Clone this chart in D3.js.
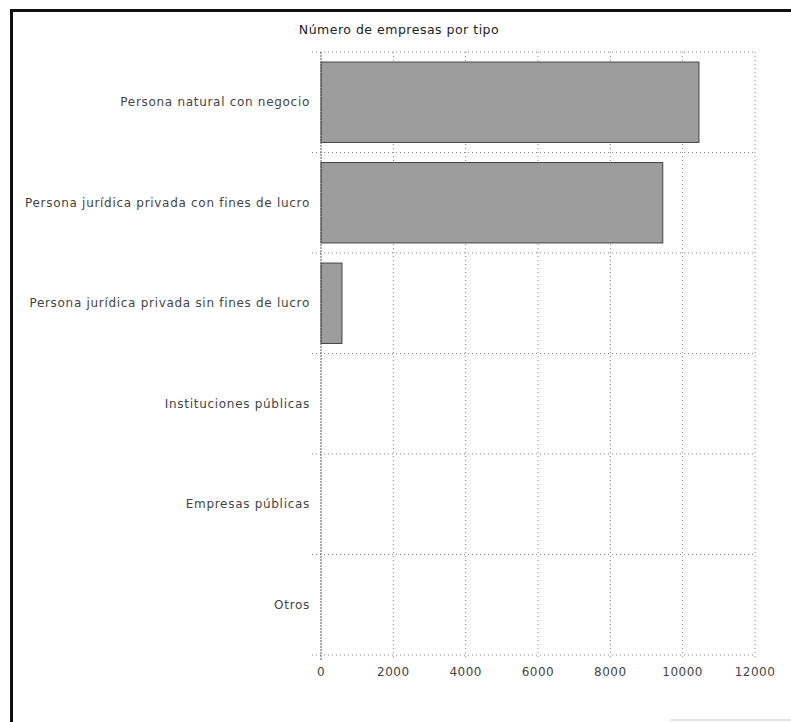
<!DOCTYPE html>
<html>
<head>
<meta charset="utf-8">
<script src="https://cdn.jsdelivr.net/npm/d3@7"></script>
<style>
  body { margin: 0; background: #fff; }
  svg { font-family: "DejaVu Sans", Verdana, sans-serif; }
</style>
</head>
<body>
<div id="vis1"></div>
<script>
// data
var tipos = [
  "Persona natural con negocio",
  "Persona jurídica privada con fines de lucro",
  "Persona jurídica privada sin fines de lucro",
  "Instituciones públicas",
  "Empresas públicas",
  "Otros"
];
var empresas = [10450, 9450, 580, 0, 0, 0];
var xTicks = [0, 2000, 4000, 6000, 8000, 10000, 12000];

var w = 791;
var h = 722;
var margin = {top: 52, right: 36, bottom: 67, left: 321};

var svg = d3.select("#vis1")
  .append("svg")
  .attr("width", w)
  .attr("height", h);

// scan frame (thick edge on the left and top)
svg.append("rect").attr("x", 10).attr("y", 9).attr("width", 3).attr("height", h - 9).attr("fill", "#111");
svg.append("rect").attr("x", 10).attr("y", 9).attr("width", w - 10).attr("height", 3).attr("fill", "#111");
svg.append("line").attr("x1", 670).attr("x2", w).attr("y1", 720).attr("y2", 720)
  .attr("stroke", "#ccc").attr("stroke-width", 1);

var x = d3.scaleLinear()
  .domain([0, 12000])
  .range([margin.left, w - margin.right]);

var y = d3.scaleBand()
  .domain(tipos)
  .range([margin.top, h - margin.bottom])
  .paddingInner(0.2)
  .paddingOuter(0.1);

var plotTop = margin.top, plotBottom = h - margin.bottom;

// title
svg.append("text")
  .attr("x", 399)
  .attr("y", 34)
  .attr("text-anchor", "middle")
  .attr("font-size", "12.5px")
  .attr("letter-spacing", "0.5px")
  .attr("fill", "#222")
  .text("Número de empresas por tipo");

// vertical gridlines
svg.append("g")
  .selectAll("line")
  .data(xTicks.slice(1))
  .enter().append("line")
  .attr("x1", function(d) { return x(d); })
  .attr("x2", function(d) { return x(d); })
  .attr("y1", plotTop)
  .attr("y2", plotBottom + 4)
  .attr("stroke", "#888")
  .attr("stroke-dasharray", "1,3");

// horizontal separators between categories
var seps = tipos.map(function(t) { return y(t) - y.step() * y.paddingInner() / 2; });
seps.push(plotBottom);
svg.append("g")
  .selectAll("line")
  .data(seps)
  .enter().append("line")
  .attr("x1", x(0) - 9)
  .attr("x2", x(12000))
  .attr("y1", function(d) { return d; })
  .attr("y2", function(d) { return d; })
  .attr("stroke", "#888")
  .attr("stroke-dasharray", "1,3");

// bars
svg.append("g")
  .selectAll("rect")
  .data(empresas)
  .enter().append("rect")
  .attr("x", x(0))
  .attr("y", function(d, i) { return y(tipos[i]); })
  .attr("width", function(d) { return x(d) - x(0); })
  .attr("height", y.bandwidth())
  .attr("fill", function(d) { return d > 0 ? "#9d9d9d" : "none"; })
  .attr("stroke", function(d) { return d > 0 ? "#444" : "none"; })
  .attr("stroke-width", 1);

// left axis line
svg.append("line")
  .attr("x1", x(0)).attr("x2", x(0))
  .attr("y1", plotTop).attr("y2", plotBottom + 6)
  .attr("stroke", "#555")
  .attr("stroke-dasharray", "2,1");

// category labels
svg.append("g")
  .selectAll("text")
  .data(tipos)
  .enter().append("text")
  .attr("x", x(0) - 11)
  .attr("y", function(d) { return y(d) + y.bandwidth() / 2; })
  .attr("dy", "0.35em")
  .attr("text-anchor", "end")
  .attr("font-size", "12px")
  .attr("letter-spacing", "0.7px")
  .attr("fill", "#444")
  .text(function(d) { return d; });

// x tick labels
svg.append("g")
  .selectAll("text")
  .data(xTicks)
  .enter().append("text")
  .attr("x", function(d) { return x(d); })
  .attr("y", plotBottom + 21)
  .attr("text-anchor", "middle")
  .attr("font-size", "12px")
  .attr("letter-spacing", "0.5px")
  .attr("fill", "#444")
  .text(function(d) { return d; });
</script>
</body>
</html>
